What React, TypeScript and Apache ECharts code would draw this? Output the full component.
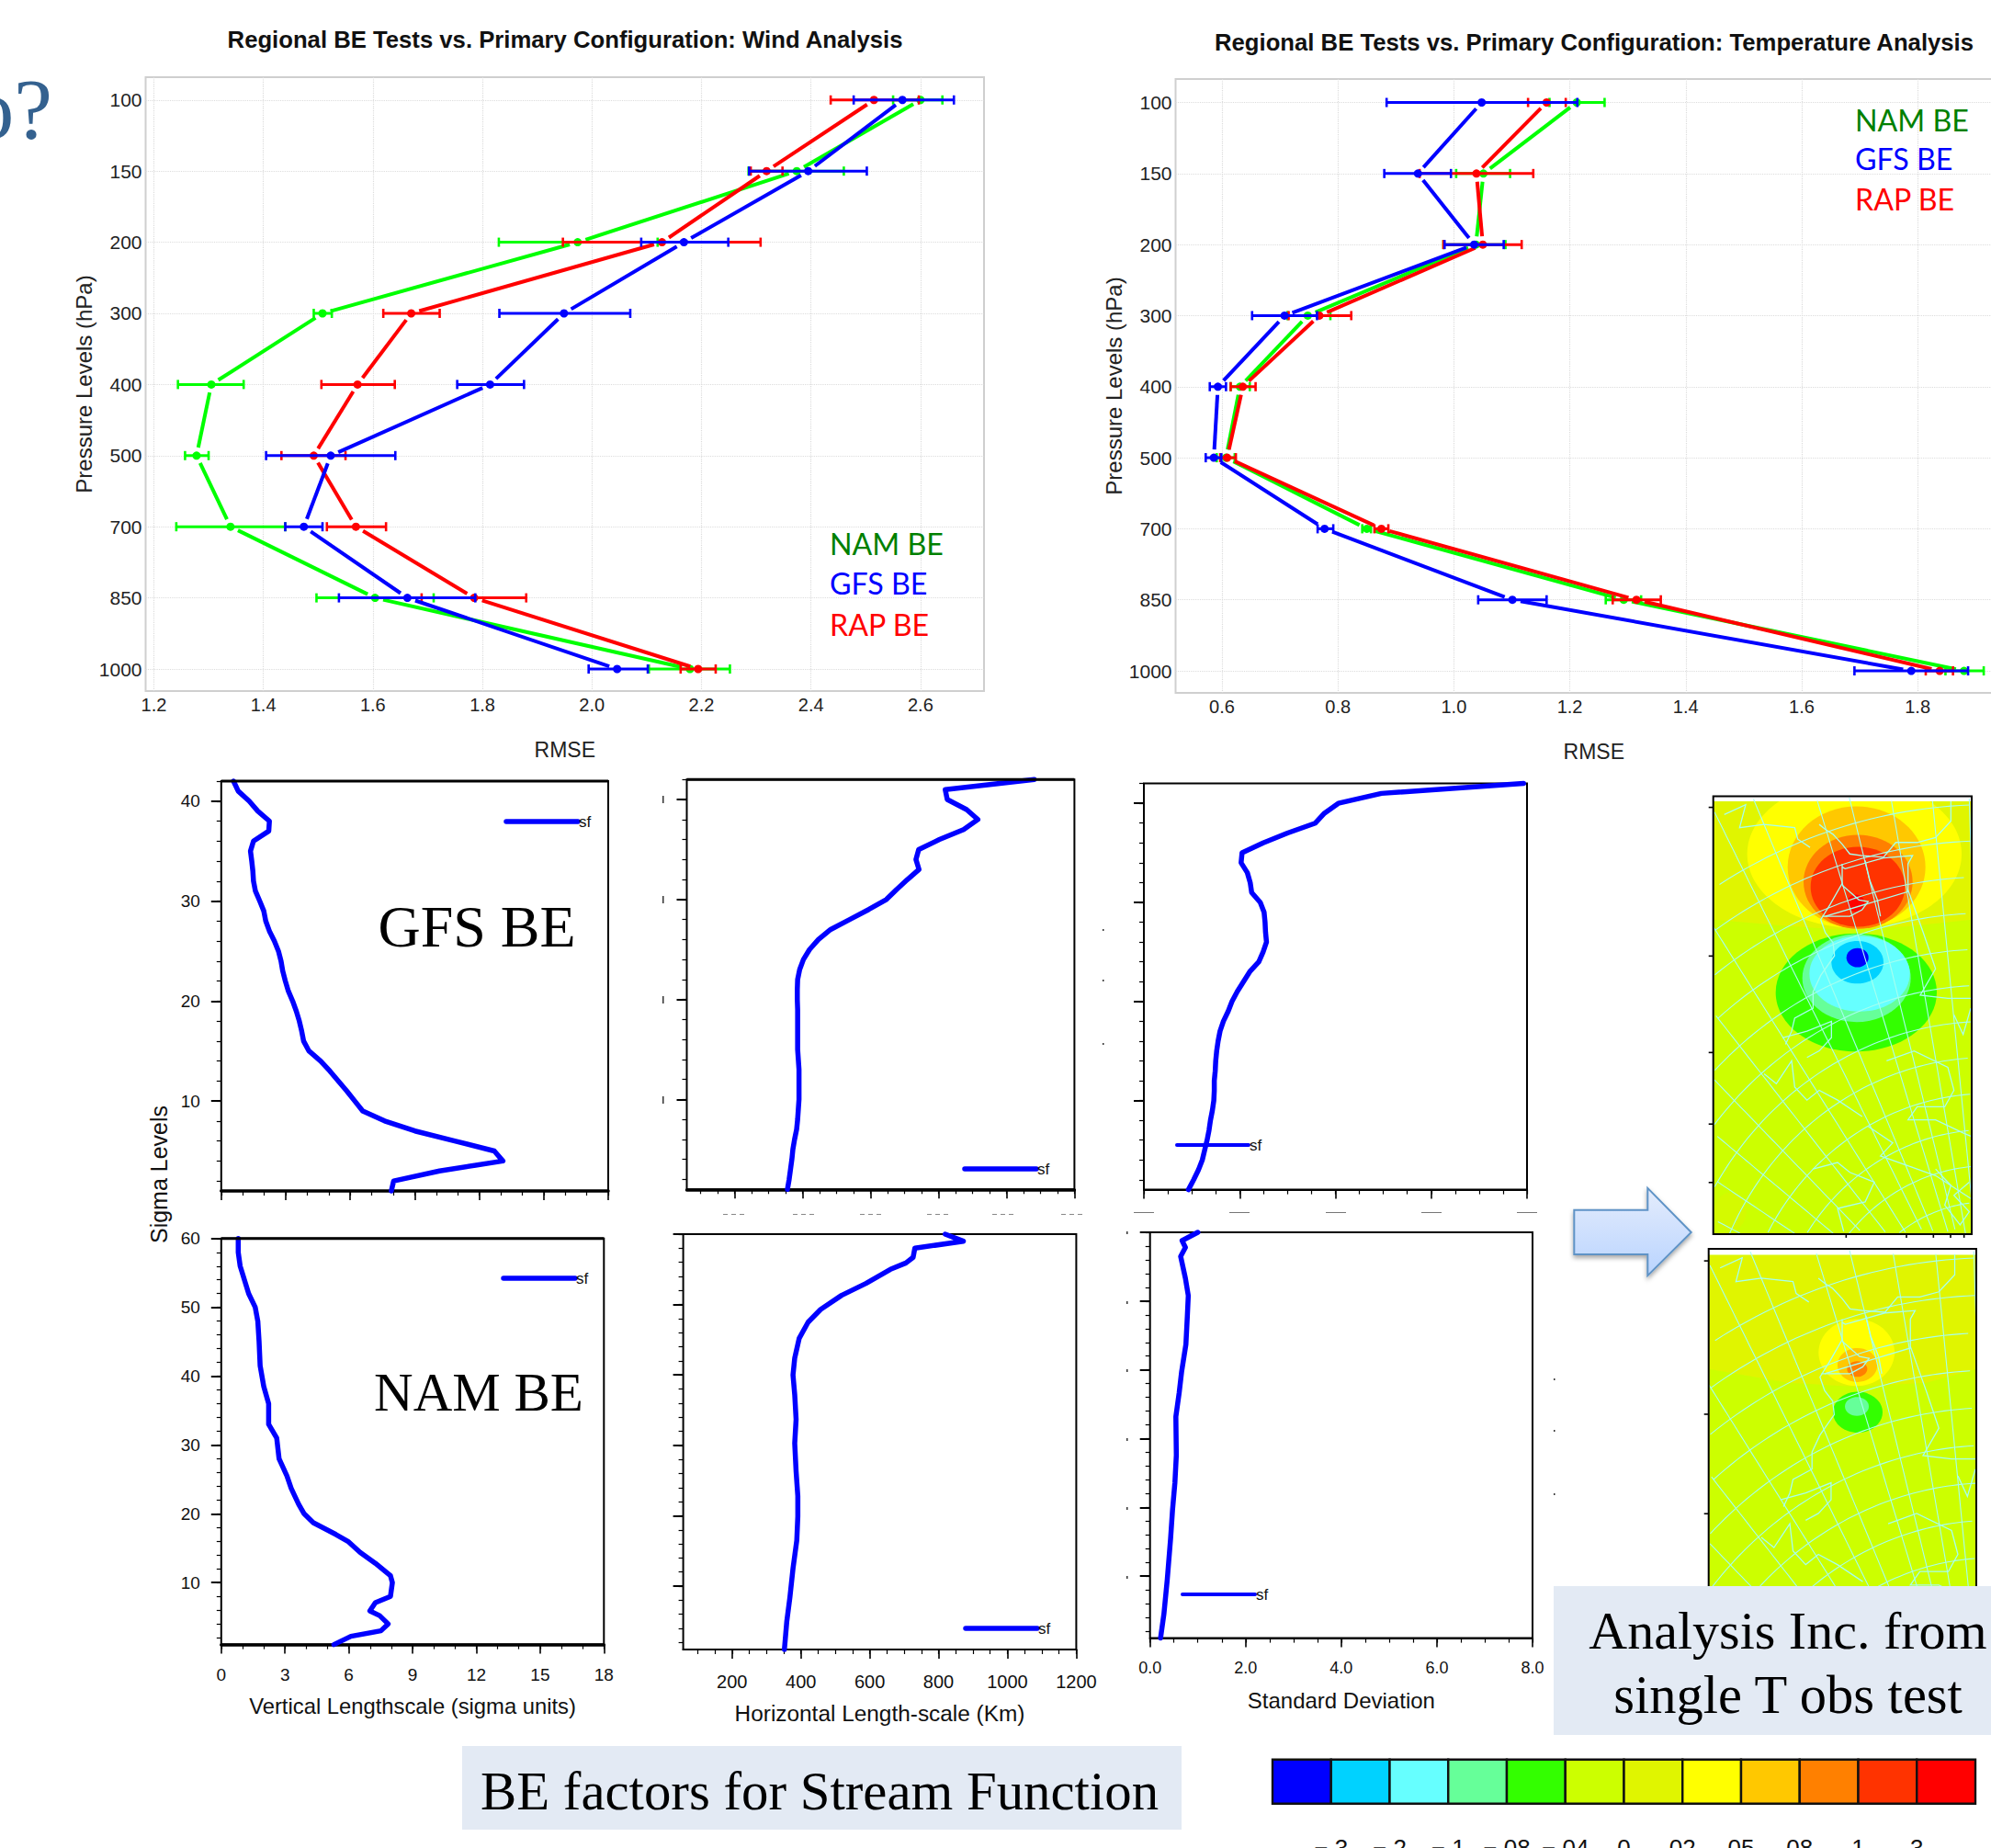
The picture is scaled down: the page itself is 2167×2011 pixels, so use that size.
import React, { useEffect, useRef } from "react";
import * as echarts from "echarts";

const SANS = "'Liberation Sans', Arial, sans-serif";
const SERIF = "'Liberation Serif', serif";

const pressureLevels = ["100", "150", "200", "300", "400", "500", "700", "850", "1000"];
const levelIndex = [0, 1, 2, 3, 4, 5, 6, 7, 8];

// [mean, lower, upper]
const windNam = [[2.6,2.55,2.64],[2.374,2.286,2.46],[1.974,1.83,2.12],[1.508,1.492,1.525],[1.305,1.244,1.364],[1.278,1.257,1.3],[1.34,1.241,1.44],[1.604,1.497,1.711],[2.179,2.104,2.252]];
const windRap = [[2.515,2.436,2.597],[2.319,2.29,2.348],[2.128,1.947,2.308],[1.67,1.619,1.722],[1.572,1.506,1.64],[1.492,1.433,1.55],[1.569,1.516,1.624],[1.785,1.689,1.88],[2.194,2.162,2.226]];
const windGfs = [[2.567,2.478,2.661],[2.395,2.287,2.502],[2.168,2.09,2.249],[1.949,1.831,2.07],[1.814,1.754,1.876],[1.523,1.405,1.641],[1.474,1.44,1.508],[1.663,1.538,1.787],[2.046,1.994,2.102]];
const tempNam = [[1.212,1.165,1.26],[1.051,1.004,1.097],[1.038,0.982,1.089],[0.748,0.713,0.787],[0.631,0.615,0.648],[0.607,0.591,0.622],[0.85,0.842,0.857],[1.293,1.262,1.323],[1.88,1.848,1.914]];
const tempRap = [[1.16,1.128,1.193],[1.039,0.941,1.137],[1.05,0.982,1.117],[0.768,0.715,0.823],[0.636,0.615,0.658],[0.609,0.597,0.624],[0.875,0.863,0.887],[1.315,1.274,1.357],[1.838,1.814,1.861]];
const tempGfs = [[1.048,0.884,1.213],[0.938,0.88,0.995],[1.035,0.984,1.086],[0.708,0.652,0.764],[0.593,0.579,0.607],[0.586,0.572,0.599],[0.777,0.765,0.792],[1.101,1.042,1.16],[1.789,1.691,1.887]];
const windTicks = [1.2, 1.4, 1.6, 1.8, 2.0, 2.2, 2.4, 2.6];
const tempTicks = [0.6, 0.8, 1.0, 1.2, 1.4, 1.6, 1.8];

const gfsSigma = [42,41,40,39,38,37,36,35,34,33,32,31,30,29,28,27,26,25,24,23,22,21,20,19,18,17,16,15,14,13,12,11,10,9,8,7,6,5,4,3,2,1];
const gfsVertical = [0.57,0.79,1.3,1.7,2.24,2.21,1.5,1.36,1.42,1.47,1.5,1.59,1.79,1.98,2.07,2.24,2.47,2.66,2.78,2.86,2.98,3.12,3.32,3.49,3.63,3.74,3.83,4.08,4.62,5.05,5.44,5.84,6.21,6.58,7.6,9.01,10.86,12.7,13.1,10.15,8.02,7.91];
const gfsHorizontal = [1082,820,826,883,916,874,803,742,734,743,709,677,647,595,539,483,447,421,403,392,386,385,385,386,386,386,386,386,388,390,390,390,390,388,386,383,377,372,369,365,361,356];
const gfsStdDev = [7.93,4.96,4.06,3.77,3.58,3.0,2.49,2.05,2.03,2.16,2.22,2.25,2.43,2.51,2.53,2.54,2.56,2.49,2.4,2.21,2.08,1.95,1.84,1.76,1.66,1.59,1.55,1.52,1.5,1.49,1.47,1.47,1.46,1.43,1.39,1.36,1.32,1.27,1.22,1.14,1.04,0.93];

const namVertSigma = [60,58,56,54,52,50,48,45,41.5,38.5,36,33,31,28,25.5,23.7,21.4,20,18.7,17,16,14.4,12.8,11,10,8,7.1,5.9,5.2,4,3,2.2,1];
const namVertical = [0.8,0.8,0.89,1.09,1.29,1.6,1.72,1.78,1.83,2.0,2.23,2.23,2.61,2.72,3.09,3.29,3.64,3.9,4.33,5.39,5.96,6.53,7.25,7.96,8.05,7.96,7.25,6.99,7.45,7.85,7.51,6.1,5.3];
const namHorizSigma = [60,59,58,56.7,55.9,55,53,51.3,49.3,47.5,45.2,42.4,40,37.2,33.7,30.3,26.3,22.8,19.9,16.5,12.5,8.4,5,1];
const namHorizontal = [819,872,731,726,705,660,589,518,457,421,395,382,377,382,386,382,386,391,391,388,377,368,359,352];
const namStdSigma = [60,58.8,57.8,56.5,53.3,50.8,47.8,43.7,39.7,36.7,33.2,27.6,23.6,19.6,15.5,9.5,4.5,1];
const namStdDev = [1.0,0.67,0.74,0.64,0.74,0.8,0.78,0.75,0.66,0.61,0.54,0.55,0.52,0.47,0.43,0.36,0.29,0.22];

const colorBarColors = ["#0000FF","#00D2FF","#66FFFF","#66FF99","#33FF00","#CCFF00","#E0F500","#FFFF00","#FFC800","#FF8000","#FF3300","#FF0000"];
const colorBarLabels = ["− 3","− 2","− 1","− 08","− 04","0","02","05","08","1","3"];
const colorBarTicks = [1,2,3,4,5,6,7,8,9,10,11];

const range = (a: number, b: number, s: number) => { const o: number[] = []; for (let v = a; v <= b + 1e-9; v += s) o.push(v); return o; };

const PROFILE_COLORS = { nam: "#00FF00", gfs: "#0000FF", rap: "#FF0000" };

function errorRender(rows: number[][], color: string) {
  return (params: any, api: any) => {
    const i = params.dataIndex;
    const r = rows[i];
    const p = api.coord([r[0], i]);
    const lo = api.coord([r[1], i]);
    const hi = api.coord([r[2], i]);
    const children: any[] = [
      { type: "line", shape: { x1: lo[0], y1: p[1], x2: hi[0], y2: p[1] }, style: { stroke: color, lineWidth: 3 } },
      { type: "line", shape: { x1: lo[0], y1: p[1] - 5, x2: lo[0], y2: p[1] + 5 }, style: { stroke: color, lineWidth: 2.6 } },
      { type: "line", shape: { x1: hi[0], y1: p[1] - 5, x2: hi[0], y2: p[1] + 5 }, style: { stroke: color, lineWidth: 2.6 } },
      { type: "circle", shape: { cx: p[0], cy: p[1], r: 4.5 }, style: { fill: color } },
    ];
    if (i < rows.length - 1) {
      const q = api.coord([rows[i + 1][0], i + 1]);
      const dx = q[0] - p[0], dy = q[1] - p[1];
      const d = Math.hypot(dx, dy) || 1;
      const g = 9 / d;
      children.push({
        type: "line",
        shape: { x1: p[0] + dx * g, y1: p[1] + dy * g, x2: q[0] - dx * g, y2: q[1] - dy * g },
        style: { stroke: color, lineWidth: 4 },
      });
    }
    return { type: "group", children };
  };
}

function buildOption() {
  const grid: any[] = [];
  const xAxis: any[] = [];
  const yAxis: any[] = [];
  const series: any[] = [];
  const graphic: any[] = [];

  const addRmse = (cfg: any) => {
    const g = grid.length;
    grid.push({ left: cfg.left, top: cfg.top, width: cfg.width, height: cfg.height, show: true, borderColor: "#cfcfcf", borderWidth: 2, backgroundColor: "transparent", containLabel: false, outerBoundsMode: "none" });
    xAxis.push({
      gridIndex: g, type: "value", min: cfg.xMin, max: cfg.xMax, position: "bottom",
      name: "RMSE", nameLocation: "middle", nameGap: 52, nameTextStyle: { fontFamily: SANS, fontSize: 23, color: "#222" },
      axisLine: { show: false, onZero: false },
      axisTick: { show: false, customValues: cfg.xTicks },
      axisLabel: { customValues: cfg.xTicks, margin: 5, fontFamily: SANS, fontSize: 20, color: "#222", formatter: (v: number) => v.toFixed(1) },
      splitLine: { show: true, lineStyle: { color: "#dcdcdc", type: "dotted", width: 1.2 } },
    });
    yAxis.push({
      gridIndex: g, type: "value", inverse: true, min: cfg.yMin, max: cfg.yMax,
      name: "Pressure Levels (hPa)", nameLocation: "middle", nameGap: 47, nameTextStyle: { fontFamily: SANS, fontSize: 24, color: "#222" },
      axisLine: { show: false, onZero: false },
      axisTick: { show: false, customValues: levelIndex },
      axisLabel: { customValues: levelIndex, margin: 4, fontFamily: SANS, fontSize: 21, color: "#222", formatter: (v: number) => pressureLevels[v] },
      splitLine: { show: true, lineStyle: { color: "#dcdcdc", type: "dotted", width: 1.2 } },
    });
    const ax = xAxis.length - 1;
    const ay = yAxis.length - 1;
    cfg.rows.forEach(([name, rows, color]: any) => {
      series.push({
        type: "custom", name, xAxisIndex: ax, yAxisIndex: ay, clip: false,
        data: rows.map((r: number[], i: number) => [r[0], i]),
        encode: { x: 0, y: 1 },
        renderItem: errorRender(rows, color),
      });
    });
  };

  addRmse({
    left: 158.5, top: 84, width: 912.5, height: 668, xMin: 1.185, xMax: 2.716, yMin: -0.32, yMax: 8.31, xTicks: windTicks,
    rows: [["NAM BE", windNam, PROFILE_COLORS.nam], ["RAP BE", windRap, PROFILE_COLORS.rap], ["GFS BE", windGfs, PROFILE_COLORS.gfs]],
  });
  addRmse({
    left: 1279.5, top: 86, width: 910.5, height: 668, xMin: 0.52, xMax: 1.963, yMin: -0.33, yMax: 8.31, xTicks: tempTicks,
    rows: [["NAM BE", tempNam, PROFILE_COLORS.nam], ["RAP BE", tempRap, PROFILE_COLORS.rap], ["GFS BE", tempGfs, PROFILE_COLORS.gfs]],
  });

  const addPanel = (p: any) => {
    const g = grid.length;
    grid.push({ left: p.l, top: p.t, width: p.r - p.l, height: p.b - p.t, show: true, borderColor: "#000", borderWidth: 2, backgroundColor: "transparent", outerBoundsMode: "none" });
    const label = { fontFamily: SANS, fontSize: p.labelSize || 19, color: "#111" };
    xAxis.push({
      gridIndex: g, type: "value", min: p.xMin, max: p.xMax, position: "bottom",
      name: p.xName, nameLocation: "middle", nameGap: p.nameGap, nameTextStyle: { fontFamily: SANS, fontSize: p.nameSize || 23.8, color: "#111" },
      axisLine: { show: true, onZero: false, lineStyle: { color: "#000", width: p.thick ? 3.5 : 2 } },
      axisTick: { show: true, customValues: p.xMajor, length: 10, lineStyle: { color: "#000", width: 1.6 } },
      axisLabel: p.xLabels
        ? { show: true, customValues: p.xMajor, margin: p.labelMargin, ...label, formatter: p.xFormat || ((v: number) => String(v)) }
        : { show: false },
      splitLine: { show: false },
    });
    const mainX = xAxis.length - 1;
    xAxis.push({
      gridIndex: g, type: "value", min: p.xMin, max: p.xMax, position: "bottom",
      axisLine: { show: false, onZero: false },
      axisTick: { show: true, customValues: p.xMinor, length: 5, lineStyle: { color: "#000", width: 1.2 } },
      axisLabel: { show: false }, splitLine: { show: false },
    });
    yAxis.push({
      gridIndex: g, type: "value", min: p.yMin, max: p.yMax, position: "left",
      axisLine: { show: false, onZero: false },
      axisTick: { show: true, customValues: p.yMajor, length: 11, lineStyle: { color: "#000", width: 2 } },
      axisLabel: p.yLabels ? { show: true, customValues: p.yMajor, margin: 23, ...label } : { show: false },
      splitLine: { show: false },
    });
    const mainY = yAxis.length - 1;
    yAxis.push({
      gridIndex: g, type: "value", min: p.yMin, max: p.yMax, position: "left",
      axisLine: { show: false, onZero: false },
      axisTick: { show: true, customValues: p.yMinor, length: 5, lineStyle: { color: "#000", width: 1.2 } },
      axisLabel: { show: false }, splitLine: { show: false },
    });
    series.push({
      type: "line", name: "sf", xAxisIndex: mainX, yAxisIndex: mainY, clip: false, showSymbol: false, symbol: "none",
      data: p.values.map((v: number, i: number) => [v, p.sigma[i]]),
      lineStyle: { color: "#0000FF", width: 5.5, join: "round", cap: "round" },
    });
    if (p.thick) {
      graphic.push({ type: "line", z: 5, shape: { x1: p.l, y1: p.t, x2: p.r, y2: p.t }, style: { stroke: "#000", lineWidth: 3 } });
    }
    // legend key
    graphic.push({ type: "line", z: 5, shape: { x1: p.key[0], y1: p.key[2], x2: p.key[1], y2: p.key[2] }, style: { stroke: "#0000FF", lineWidth: p.keyWidth || 5.5, lineCap: "round" } });
    graphic.push({ type: "text", z: 5, x: p.key[1] + 1, y: p.key[2], style: { text: "sf", fontFamily: SANS, fontSize: 17, fill: "#111", verticalAlign: "middle", textVerticalAlign: "middle" } });
  };

  const hMajor = range(200, 1200, 200);
  const hMinor = range(100, 1200, 50);
  const vMajor = range(0, 18, 3);
  const vMinor = range(0, 18, 1);
  const sMajor = range(0, 8, 2);
  const sMinor = range(0, 8, 0.5);
  const y42Major = [10, 20, 30, 40];
  const y42Minor = range(2, 42, 2);
  const y60Major = [10, 20, 30, 40, 50, 60];
  const y60Minor = range(2, 60, 2);

  addPanel({ l: 240.8, r: 662, t: 850, b: 1296, xMin: 0, xMax: 18, yMin: 1, yMax: 42, xMajor: vMajor, xMinor: vMinor, yMajor: y42Major, yMinor: y42Minor, yLabels: true, thick: true, sigma: gfsSigma, values: gfsVertical, key: [551, 629, 894] });
  addPanel({ l: 747.5, r: 1169.4, t: 848.3, b: 1294.3, xMin: 60, xMax: 1200, yMin: 1, yMax: 42, xMajor: hMajor, xMinor: hMinor, yMajor: y42Major, yMinor: y42Minor, thick: true, sigma: gfsSigma, values: gfsHorizontal, key: [1050, 1128, 1272] });
  addPanel({ l: 1245, r: 1662, t: 852.6, b: 1294.6, xMin: 0, xMax: 8, yMin: 1, yMax: 42, xMajor: sMajor, xMinor: sMinor, yMajor: y42Major, yMinor: y42Minor, sigma: gfsSigma, values: gfsStdDev, key: [1281, 1359, 1246], keyWidth: 4 });
  addPanel({ l: 240.8, r: 657.3, t: 1347.8, b: 1789.6, xMin: 0, xMax: 18, yMin: 1, yMax: 60, xMajor: vMajor, xMinor: vMinor, yMajor: y60Major, yMinor: y60Minor, yLabels: true, xLabels: true, thick: true, labelMargin: 23, xName: "Vertical Lengthscale (sigma units)", nameGap: 55, sigma: namVertSigma, values: namVertical, key: [548, 626, 1391] });
  addPanel({ l: 743.6, r: 1171.4, t: 1343, b: 1795, xMin: 58, xMax: 1200, yMin: 1, yMax: 60, xMajor: hMajor, xMinor: hMinor, yMajor: y60Major, yMinor: y60Minor, xLabels: true, labelMargin: 25, xName: "Horizontal Length-scale (Km)", nameGap: 57, nameSize: 24.4, labelSize: 20, sigma: namHorizSigma, values: namHorizontal, key: [1051, 1129, 1772] });
  addPanel({ l: 1251.7, r: 1668, t: 1341, b: 1782.6, xMin: 0, xMax: 8, yMin: 1, yMax: 60, xMajor: sMajor, xMinor: sMinor, yMajor: y60Major, yMinor: y60Minor, xLabels: true, labelMargin: 23, labelSize: 18, xFormat: (v: number) => v.toFixed(1), xName: "Standard Deviation", nameGap: 56, nameSize: 24, sigma: namStdSigma, values: namStdDev, key: [1287, 1366, 1735], keyWidth: 4 });

  // colour bar
  const cbGrid = grid.length;
  grid.push({ left: 1385, top: 1914.7, width: 765, height: 48, show: false, outerBoundsMode: "none" });
  xAxis.push({
    gridIndex: cbGrid, type: "value", min: 0, max: 12, position: "bottom",
    axisLine: { show: false, onZero: false },
    axisTick: { show: false, customValues: colorBarTicks },
    axisLabel: { customValues: colorBarTicks, margin: 35, fontFamily: SANS, fontSize: 26, color: "#111", formatter: (v: number) => colorBarLabels[v - 1] },
    splitLine: { show: false },
  });
  yAxis.push({ gridIndex: cbGrid, type: "value", min: 0, max: 1, axisLine: { show: false }, axisTick: { show: false }, axisLabel: { show: false }, splitLine: { show: false } });
  series.push({
    type: "custom", name: "increment", xAxisIndex: xAxis.length - 1, yAxisIndex: yAxis.length - 1,
    data: colorBarColors.map((_, i) => [i, 0]), encode: { x: 0, y: 1 },
    renderItem: (params: any, api: any) => {
      const i = params.dataIndex;
      const a = api.coord([i, 1]);
      const b = api.coord([i + 1, 0]);
      return { type: "rect", shape: { x: a[0], y: a[1], width: b[0] - a[0], height: b[1] - a[1] }, style: { fill: colorBarColors[i], stroke: "#111", lineWidth: 2.4 } };
    },
  });

  // maps
  const cyan = "#A6FFF0";
  const mapRectZ = { x0: 554, x1: 1398, y0: 74, y1: 1408 };
  const coasts: number[][][] = [
    [[900,160],[920,175],[945,190],[975,220],[1000,250],[1040,255],[1110,260],[1150,215],[1220,215],[1280,200],[1330,150],[1330,90]],
    [[975,280],[975,340],[935,405],[905,450],[920,490],[945,520],[950,560],[905,620],[880,670],[880,720],[820,750],[810,790],[790,830]],
    [[975,345],[1030,390],[1060,395],[1040,420],[1000,440],[910,440]],
    [[1050,270],[1065,330],[1090,390],[1100,440]],
    [[920,440],[1190,365],[1190,280],[1205,255],[1110,262],[985,295],[975,290]],
    [[780,810],[860,790],[940,760],[940,810],[900,850],[860,870]],
    [[720,920],[760,950],[810,880],[820,960],[860,1000],[900,970],[960,1000],[1040,1050]],
    [[1120,880],[1210,850],[1320,900],[1340,970],[1310,1020],[1220,1020],[1190,1060],[1280,1060],[1370,1100],[1395,1110]],
    [[1060,1080],[1140,1130],[1100,1170],[1190,1200],[1280,1230],[1395,1300]],
    [[880,1210],[960,1190],[1000,1220],[1080,1250],[1050,1310],[960,1330],[980,1400]],
    [[1190,360],[1240,490],[1280,600],[1230,680],[1320,690],[1398,690]],
    [[1340,740],[1370,800],[1395,720]],
    [[590,130],[660,100],[640,170],[720,160],[820,170],[830,205],[870,230]],
    [[1280,1210],[1330,1260],[1310,1320],[1360,1380],[1390,1340],[1340,1290],[1390,1250]],
  ];
  const pole = [1450, 1800];
  const radii = [1700, 1590, 1480, 1370, 1260, 1150, 1040, 930, 820, 710, 600, 490, 380];
  const meridianAngles = [-92, -96, -100.4, -104.7, -108, -114, -118, -124, -130, -136, -142, -148, -154, -160];

  const runs = (pts: number[][]) => {
    const out: number[][][] = [];
    let cur: number[][] = [];
    pts.forEach((pt) => {
      const inside = pt[0] >= mapRectZ.x0 && pt[0] <= mapRectZ.x1 && pt[1] >= mapRectZ.y0 && pt[1] <= mapRectZ.y1;
      if (inside) cur.push(pt);
      else { if (cur.length > 1) out.push(cur); cur = []; }
    });
    if (cur.length > 1) out.push(cur);
    return out;
  };

  const addMap = (m: any) => {
    const T = ([zx, zy]: number[]) => [
      m.l + ((zx - mapRectZ.x0) / (mapRectZ.x1 - mapRectZ.x0)) * (m.r - m.l),
      m.t + ((zy - mapRectZ.y0) / (mapRectZ.y1 - mapRectZ.y0)) * (m.b - m.t),
    ];
    graphic.push({ type: "rect", z: 1, shape: { x: m.l, y: m.t, width: m.r - m.l, height: m.b - m.t }, style: { fill: "#CCFF00" } });
    graphic.push({ type: "polygon", z: 1, shape: { points: m.upper.map(m.P) }, style: { fill: "#E0F500" } });
    m.ellipses.forEach(([cx, cy, rx, ry, c]: any) => {
      const pc = m.P([cx, cy]);
      graphic.push({ type: "ellipse", z: 1, shape: { cx: pc[0], cy: pc[1], rx: rx * m.sx, ry: ry * m.sy }, style: { fill: c } });
    });
    // white strip that hides what rises above the plotted field
    graphic.push({ type: "rect", z: 1, shape: { x: m.l - 2, y: m.t - m.above, width: m.r - m.l + 4, height: m.band + m.above }, style: { fill: "#fff" } });
    radii.forEach((r) => {
      const pts: number[][] = [];
      for (let a = -180; a <= -60; a += 1) pts.push([pole[0] + r * Math.cos((a * Math.PI) / 180), pole[1] + r * Math.sin((a * Math.PI) / 180)]);
      runs(pts).forEach((run) => graphic.push({ type: "polyline", z: 1, shape: { points: run.map(T) }, style: { stroke: cyan, lineWidth: 1.1, fill: "none" } }));
    });
    meridianAngles.forEach((a) => {
      const pts: number[][] = [];
      for (let r = 100; r <= 2400; r += 20) pts.push([pole[0] + r * Math.cos((a * Math.PI) / 180), pole[1] + r * Math.sin((a * Math.PI) / 180)]);
      runs(pts).forEach((run) => graphic.push({ type: "polyline", z: 1, shape: { points: run.map(T) }, style: { stroke: cyan, lineWidth: 1.1, fill: "none" } }));
    });
    coasts.forEach((c) => graphic.push({ type: "polyline", z: 1, shape: { points: c.map(T) }, style: { stroke: cyan, lineWidth: 1.3, fill: "none" } }));
    graphic.push({ type: "rect", z: 1, shape: { x: m.l, y: m.t, width: m.r - m.l, height: m.b - m.t }, style: { fill: "none", stroke: "#000", lineWidth: 2 } });
    m.leftTicks.forEach((y: number) => graphic.push({ type: "line", z: 1, shape: { x1: m.l - 5, y1: y, x2: m.l, y2: y }, style: { stroke: "#000", lineWidth: 1.6 } }));
    (m.bottomTicks || []).forEach((x: number) => graphic.push({ type: "line", z: 1, shape: { x1: x, y1: m.b, x2: x, y2: m.b + 4 }, style: { stroke: "#000", lineWidth: 1.6 } }));
  };

  const P1 = ([zx, zy]: number[]) => [1680 + zx / 3, 840 + zy / 2.8];
  const P2 = ([zx, zy]: number[]) => [1680 + zx / 3, 1340 + zy / 2.337];
  addMap({
    l: 1864.7, r: 2146, t: 866.4, b: 1342.9, band: 5.6, above: 30, P: P1, sx: 1 / 3, sy: 1 / 2.8,
    upper: [[554,90],[1398,90],[1398,450],[1200,470],[1000,482],[800,470],[554,450]],
    ellipses: [
      [1015,250,350,225,"#FFFF00"],[1022,290,225,185,"#FFC800"],[1027,335,178,143,"#FF8000"],[1026,350,154,122,"#FF3300"],[1020,400,28,26,"#FF0000"],
      [1021,672,263,180,"#33FF00"],[1022,628,177,134,"#66FF99"],[1032,615,164,115,"#66FFFF"],[1025,580,85,65,"#00D2FF"],[1025,566,36,29,"#0000FF"],
      [610,1340,52,58,"#D4FA00"],
    ],
    leftTicks: [108, 561, 855, 1073, 1251].map((z) => 840 + z / 2.8),
    bottomTicks: [988, 1185, 1273, 1329, 1373].map((z) => 1680 + z / 3),
  });
  addMap({
    l: 1859.7, r: 2151, t: 1359, b: 1854, band: 6.4, above: 0, P: P2, sx: 1 / 3, sy: 1 / 2.337,
    upper: [[539,60],[1413,60],[1413,350],[1250,385],[1020,395],[800,385],[539,350]],
    ellipses: [
      [1022,308,124,85,"#FFFF00"],[1025,340,65,43,"#FFC800"],[1024,350,33,20,"#FF8000"],
      [1026,460,81,52,"#33FF00"],[1023,445,39,24,"#66FF99"],
    ],
    leftTicks: [75, 465, 718].map((z) => 1340 + z / 2.337),
  });

  // arrow
  graphic.push({
    type: "polygon", z: 1,
    shape: { points: [[1713.3,1316.8],[1793.3,1316.8],[1793.3,1292.9],[1840.7,1341],[1793.3,1388.2],[1793.3,1365],[1713.3,1365]] },
    style: {
      fill: new echarts.graphic.LinearGradient(0, 0, 0, 1, [{ offset: 0, color: "#E4ECFC" }, { offset: 1, color: "#B9D4FF" }]),
      stroke: "#5F93C6", lineWidth: 2, shadowColor: "rgba(0,0,0,0.35)", shadowBlur: 5, shadowOffsetY: 3,
    },
  });

  // caption boxes
  graphic.push({ type: "rect", z: 6, shape: { x: 1691, y: 1726, width: 476, height: 162 }, style: { fill: "#E3EAF4" } });
  graphic.push({ type: "rect", z: 6, shape: { x: 503, y: 1900, width: 783, height: 91 }, style: { fill: "#E3EAF4" } });
  const serifText = (text: string, x: number, y: number, size: number, align = "center", fill = "#000") => ({
    type: "text", z: 7, x, y, style: { text, fontFamily: SERIF, fontSize: size, fill, align, verticalAlign: "middle", textAlign: align, textVerticalAlign: "middle" },
  });
  graphic.push(serifText("Analysis Inc. from", 1946, 1774, 58));
  graphic.push(serifText("single T obs test", 1946, 1844, 58.5));
  graphic.push(serifText("BE factors for Stream Function", 892, 1949, 58.8));
  graphic.push(serifText("GFS BE", 519, 1008, 64));
  graphic.push(serifText("NAM BE", 521, 1515, 59));
  graphic.push(serifText("o?", 57, 118, 94, "right", "#34618F"));

  const legendText = (text: string, x: number, y: number, fill: string) => ({
    type: "text", z: 7, x, y, style: { text, fontFamily: "Lato, 'Open Sans', sans-serif", fontSize: 32.2, fill, textVerticalAlign: "middle", verticalAlign: "middle" },
  });
  graphic.push(legendText("NAM BE", 903, 591, "#008000"), legendText("GFS BE", 903, 634, "#0000FF"), legendText("RAP BE", 903, 679, "#FF0000"));
  graphic.push(legendText("NAM BE", 2019, 130, "#008000"), legendText("GFS BE", 2019, 172, "#0000FF"), legendText("RAP BE", 2019, 216, "#FF0000"));

  graphic.push({
    type: "text", z: 7, x: 173, y: 1278, rotation: Math.PI / 2,
    style: { text: "Sigma Levels", fontFamily: SANS, fontSize: 25, fill: "#111", textAlign: "center", textVerticalAlign: "middle", align: "center", verticalAlign: "middle" },
  });

  // clipped-label remnants beside the overlapping panels
  const sliver = (x: number, y: number, w: number, h: number, fill = "#333") => ({ type: "rect", z: 3, shape: { x, y, width: w, height: h }, style: { fill } });
  [870, 979, 1088, 1197].forEach((y) => graphic.push(sliver(721, y - 4, 1.5, 8)));
  [1011, 1066, 1135].forEach((y) => graphic.push(sliver(1200, y, 1.5, 2)));
  [1500, 1556, 1625].forEach((y) => graphic.push(sliver(1691, y, 1.5, 2)));
  [1340, 1416, 1490, 1565, 1640, 1715].forEach((y) => graphic.push(sliver(1226, y, 1.5, 3)));
  [787, 863, 936, 1009, 1080, 1155].forEach((x) => [0, 9, 18].forEach((d) => graphic.push(sliver(x + d, 1321, 5, 1, "#888"))));
  [1245, 1349, 1454, 1558, 1662].forEach((x) => graphic.push(sliver(x - 11, 1319, 22, 1, "#777")));

  return {
    animation: false,
    backgroundColor: "#fff",
    title: [
      { text: "Regional BE Tests vs. Primary Configuration: Wind Analysis", left: 610, top: 25, textAlign: "center", textStyle: { fontFamily: SANS, fontWeight: "bold", fontSize: 25.7, color: "#111" } },
      { text: "Regional BE Tests vs. Primary Configuration: Temperature Analysis", left: 1730, top: 28, textAlign: "center", textStyle: { fontFamily: SANS, fontWeight: "bold", fontSize: 25.7, color: "#111" } },
    ],
    grid, xAxis, yAxis, series, graphic,
  };
}

export default function App() {
  const ref = useRef<HTMLDivElement>(null);
  useEffect(() => {
    document.body.style.margin = "0";
    const chart = echarts.init(ref.current as HTMLDivElement, undefined, { renderer: "svg" });
    chart.setOption(buildOption() as any);
    return () => chart.dispose();
  }, []);
  return <div ref={ref} style={{ width: 2167, height: 2011, overflow: "hidden" }} />;
}
